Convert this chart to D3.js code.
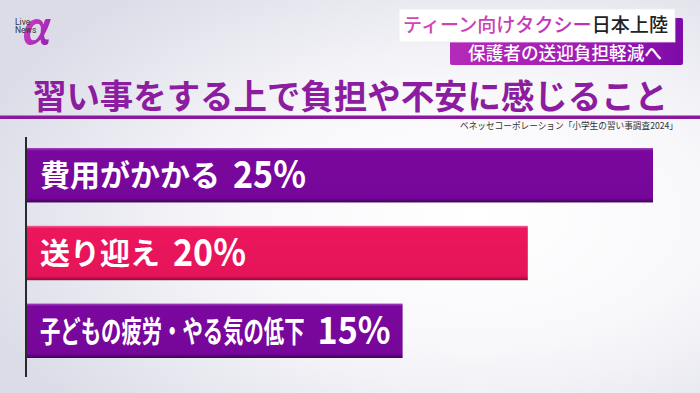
<!DOCTYPE html>
<html><head><meta charset="utf-8">
<script src="https://cdn.jsdelivr.net/npm/d3@7"></script>
<style>
html,body{margin:0;padding:0;background:#fff;overflow:hidden;}
svg{display:block;}
</style></head>
<body>
<svg id="chart" width="700" height="393"></svg>
<script>
// ---- data ----
const categories = ["費用がかかる", "送り迎え", "子どもの疲労・やる気の低下"];
const values = [25, 20, 15];
const barColors = ["purple", "pink", "purple"];
const titleText = "習い事をする上で負担や不安に感じること";
const sourceText = "ベネッセコーポレーション「小学生の習い事調査2024」";
const headline1a = "ティーン向けタクシー";
const headline1b = "日本上陸";
const headline2 = "保護者の送迎負担軽減へ";

const W = 700, H = 393;
const svg = d3.select("#chart");
const defs = svg.append("defs");
const FONT = "'Noto Sans CJK JP','Noto Sans',sans-serif";

// background
const bg = defs.append("radialGradient").attr("id","bg")
  .attr("cx","0.68").attr("cy","0.55").attr("r","0.75");
bg.append("stop").attr("offset","0").attr("stop-color","#ffffff");
bg.append("stop").attr("offset","0.45").attr("stop-color","#f8f8fb");
bg.append("stop").attr("offset","1").attr("stop-color","#dcdce8");
svg.append("rect").attr("width",W).attr("height",H).attr("fill","url(#bg)");

// bar gradients
function barGrad(id, hi, mid, mid2, lo){
  const g = defs.append("linearGradient").attr("id",id).attr("x1",0).attr("x2",0).attr("y1",0).attr("y2",1);
  g.append("stop").attr("offset","0").attr("stop-color",hi);
  g.append("stop").attr("offset","0.05").attr("stop-color",mid);
  g.append("stop").attr("offset","0.92").attr("stop-color",mid2);
  g.append("stop").attr("offset","1").attr("stop-color",lo);
}
barGrad("purple","#a446c0","#7b089e","#76069a","#3e0356");
barGrad("pink","#f4609a","#ec165c","#e51459","#8e0a3a");

// header gradients
const hg = defs.append("linearGradient").attr("id","hdr").attr("x1",0).attr("x2",1).attr("y1",0).attr("y2",0);
hg.append("stop").attr("offset","0").attr("stop-color","#b42ab8");
hg.append("stop").attr("offset","0.6").attr("stop-color","#a01cb4");
hg.append("stop").attr("offset","1").attr("stop-color","#7e0aa8");
const pg = defs.append("linearGradient").attr("id","pinktxt").attr("x1",0).attr("x2",1).attr("y1",0).attr("y2",0);
pg.append("stop").attr("offset","0").attr("stop-color","#d846b4");
pg.append("stop").attr("offset","1").attr("stop-color","#b02cc0");
const ag = defs.append("linearGradient").attr("id","alpha").attr("x1",0).attr("x2",1).attr("y1",0).attr("y2",1);
ag.append("stop").attr("offset","0").attr("stop-color","#e448c8");
ag.append("stop").attr("offset","1").attr("stop-color","#8a1cb0");

// logo
svg.append("text").attr("x",23).attr("y",45).attr("font-family","Lato, 'DejaVu Sans', sans-serif")
  .attr("font-style","italic").attr("font-weight",700).attr("font-size",50)
  .attr("fill","url(#alpha)").text("α");
svg.append("text").attr("x",15).attr("y",25).attr("font-family","Roboto, sans-serif")
  .attr("font-size",8.5).attr("fill","#333").text("Live");
svg.append("text").attr("x",15).attr("y",33).attr("font-family","Roboto, sans-serif")
  .attr("font-size",8.5).attr("fill","#333").text("News");

// headline boxes
svg.append("rect").attr("x",450).attr("y",18).attr("width",233).attr("height",47).attr("rx",2).attr("fill","url(#hdr)");
svg.append("rect").attr("x",399).attr("y",9).attr("width",276).attr("height",33).attr("fill","#ffffff")
  .attr("stroke","#ececf2").attr("stroke-width",0.8);
const h1 = svg.append("text").attr("x",403).attr("y",32).attr("font-family",FONT).attr("font-weight",500)
  .attr("font-size",19).attr("textLength",265).attr("lengthAdjust","spacingAndGlyphs");
h1.append("tspan").attr("fill","url(#pinktxt)").text(headline1a);
h1.append("tspan").attr("fill","#222").text(headline1b);
svg.append("text").attr("x",468).attr("y",60).attr("font-family",FONT).attr("font-weight",500)
  .attr("font-size",18).attr("fill","#fff").attr("textLength",194).attr("lengthAdjust","spacingAndGlyphs")
  .text(headline2);

// title
svg.append("text").attr("x",33).attr("y",109).attr("font-family",FONT).attr("font-weight",700)
  .attr("font-size",34).attr("fill","#8c1ca0").attr("textLength",635).attr("lengthAdjust","spacingAndGlyphs")
  .text(titleText);
svg.append("rect").attr("x",0).attr("y",115.5).attr("width",W).attr("height",3.5).attr("fill","#8a1a9c");

// source
svg.append("text").attr("x",678).attr("y",129).attr("text-anchor","end").attr("font-family",FONT)
  .attr("font-size",9.5).attr("fill","#333").attr("textLength",218).attr("lengthAdjust","spacingAndGlyphs")
  .text(sourceText);

// scales
const x = d3.scaleLinear().domain([0, 25]).range([27, 653]);
const y = d3.scaleBand().domain(categories).range([148, 358]).paddingInner(0.3).paddingOuter(0);

// axis line
svg.append("line").attr("x1",x(0)-1).attr("x2",x(0)-1)
  .attr("y1",y.range()[0]-11).attr("y2",y.range()[1]+19)
  .attr("stroke","#2a2a2a").attr("stroke-width",2);

const data = categories.map((c,i)=>({cat:c, v:values[i], color:barColors[i]}));

const g = svg.append("g");
g.selectAll("rect.bar").data(data).join("rect").attr("class","bar")
  .attr("x", x(0)).attr("y", d=>y(d.cat)).attr("width", d=>x(d.v)-x(0)).attr("height", y.bandwidth())
  .attr("fill", d=>`url(#${d.color})`);

// labels
const GAP = 13;
data.forEach(d=>{
  const cy = y(d.cat) + y.bandwidth()/2;
  const val = g.append("text").attr("font-family",FONT).attr("font-weight",700).attr("font-size",38)
    .attr("fill","#fff").attr("y", cy + 13).text(d.v + "%");
  const vw = Math.min(val.node().getComputedTextLength(), 73);
  val.attr("textLength", vw).attr("lengthAdjust","spacingAndGlyphs");
  const lab = g.append("text").attr("font-family",FONT).attr("font-weight",700).attr("font-size",30)
    .attr("fill","#fff").attr("x", 0).attr("y", 0).text(d.cat);
  let lw = lab.node().getComputedTextLength();
  const avail = x(d.v) - 12 - vw - GAP - 40;
  let k = 1;
  if (lw > avail){ k = avail / lw; lw = avail; }
  lab.attr("transform", `translate(40,${cy + 11}) scale(${k},1)`);
  val.attr("x", 40 + lw + GAP);
});
</script>
</body></html>
